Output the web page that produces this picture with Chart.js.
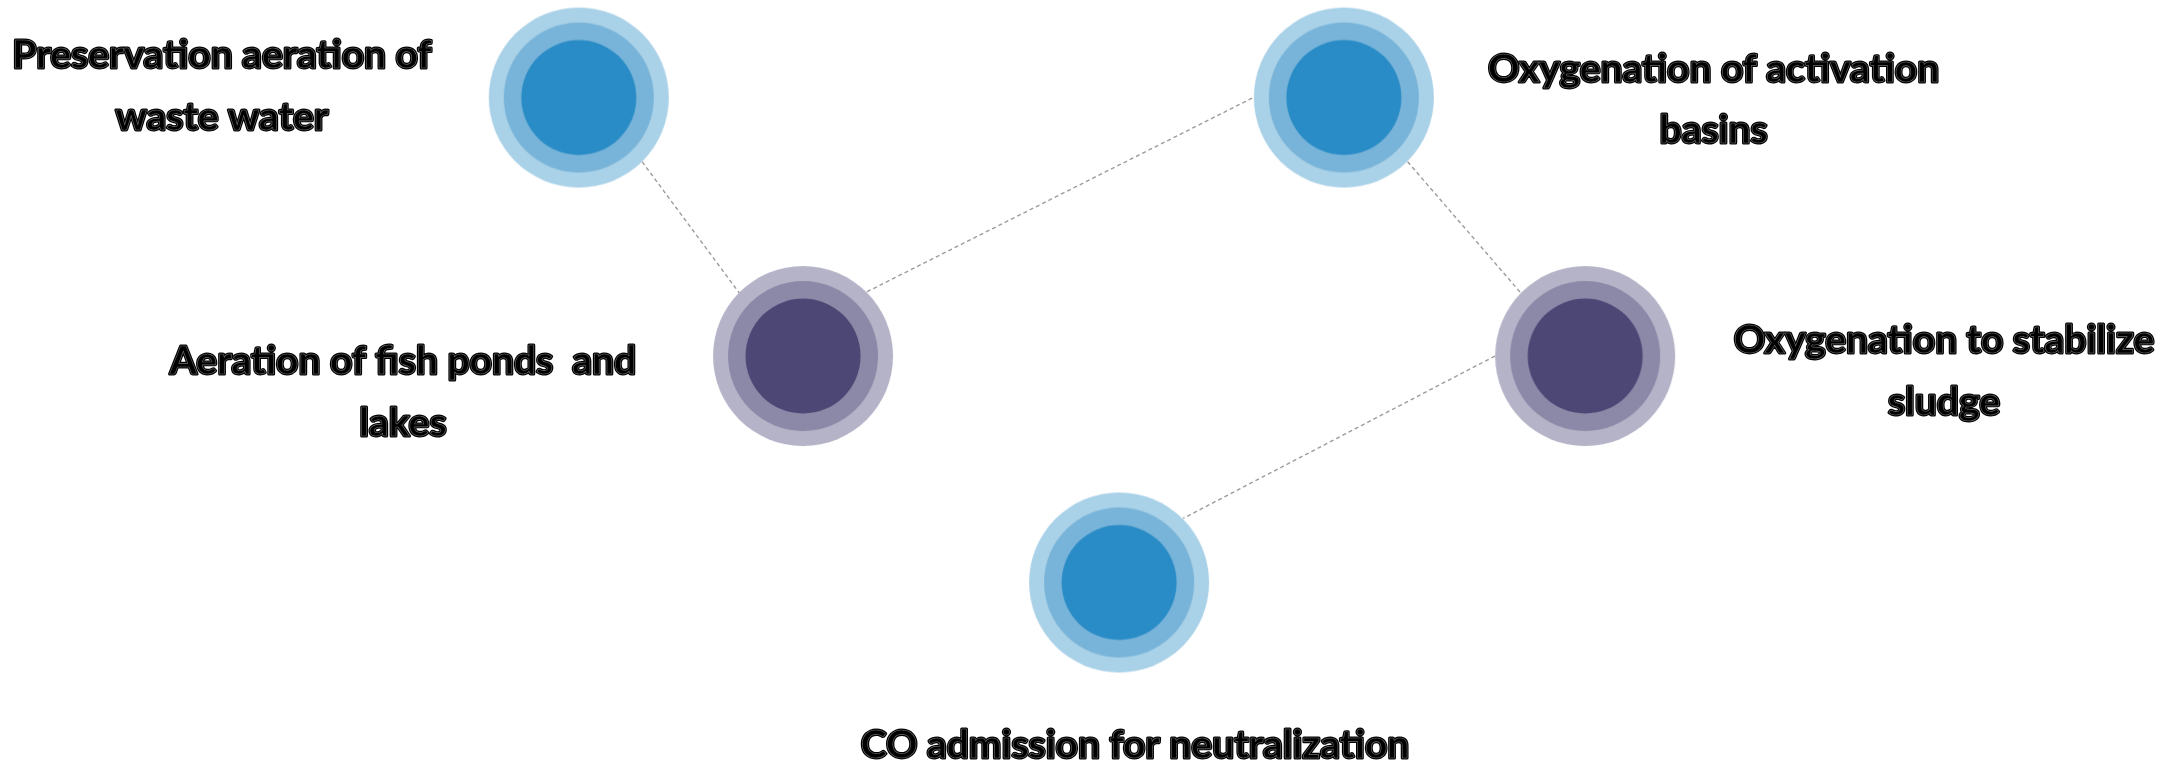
<!DOCTYPE html>
<html>
<head>
<meta charset="utf-8">
<script src="https://cdn.jsdelivr.net/npm/chart.js@4"></script>
<style>
  html, body { margin: 0; padding: 0; background: #fff; }
  #wrap { width: 2184px; height: 766px; position: relative; }
</style>
</head>
<body>
<div id="wrap"><canvas id="diagram"></canvas></div>
<script>
// layout units: percent of width (x) and height (y, from the top)
const nodeLabels = [
  ["Preservation aeration of", "waste water"],
  ["Oxygenation of activation", "basins"],
  ["Aeration of fish ponds  and", "lakes"],
  ["Oxygenation to stabilize", "sludge"],
  ["CO admission for neutralization"],
];
const nodeX = [26.5, 61.53, 36.77, 72.58, 51.24];
const nodeY = [12.73, 12.73, 46.48, 46.48, 76.04];
const nodeTone = ["blue", "blue", "purple", "purple", "blue"];
const labelX = [10.16, 78.46, 18.45, 89.01, 51.97];
const labelY = [8.92, 10.67, 48.86, 46.14, 98.99];

// dashed connectors, start and end points
const linkX0 = [29.4, 39.7, 64.45, 68.45];
const linkY0 = [21.11, 38.08, 21.11, 46.48];
const linkX1 = [33.86, 57.41, 69.65, 54.18];
const linkY1 = [38.29, 12.7, 38.29, 67.66];

const tones = {
  blue: ["#a9d1e7", "#78b4d9", "#2a8cc6"],
  purple: ["#b5b3c8", "#8c89a8", "#4d4776"],
};

function makeRings(cols) {
  const c = document.createElement("canvas");
  c.width = 182;
  c.height = 182;
  const g = c.getContext("2d");
  [90, 75, 57.5].forEach((r, i) => {
    g.beginPath();
    g.arc(91, 91, r, 0, Math.PI * 2);
    g.fillStyle = cols[i];
    g.fill();
  });
  return c;
}
const ringImg = { blue: makeRings(tones.blue), purple: makeRings(tones.purple) };

const linkSets = linkX0.map((x, i) => ({
  type: "scatter",
  data: [{ x: x, y: linkY0[i] }, { x: linkX1[i], y: linkY1[i] }],
  showLine: true,
  borderColor: "#9c9c9c",
  borderWidth: 1.4,
  borderDash: [4, 3],
  pointRadius: 0,
  order: 2,
}));

const labelPlugin = {
  id: "nodeLabels",
  afterDatasetsDraw(chart) {
    const ctx = chart.ctx;
    const xs = chart.scales.x, ys = chart.scales.y;
    ctx.save();
    ctx.font = "bold 39px Lato";
    ctx.textAlign = "center";
    ctx.textBaseline = "alphabetic";
    ctx.lineJoin = "round";
    nodeLabels.forEach((lines, i) => {
      const px = xs.getPixelForValue(labelX[i]);
      const py = ys.getPixelForValue(labelY[i]);
      lines.forEach((t, k) => {
        const y = py + k * 61.5;
        ctx.lineWidth = 3;
        ctx.strokeStyle = "#000";
        ctx.strokeText(t, px, y);
        ctx.fillStyle = "#000";
        ctx.fillText(t, px, y);
        ctx.lineWidth = 0.6;
        ctx.strokeStyle = "#6e6e6e";
        ctx.strokeText(t, px, y);
      });
    });
    ctx.restore();
  },
};

new Chart(document.getElementById("diagram"), {
  type: "scatter",
  data: {
    datasets: [
      {
        data: nodeX.map((x, i) => ({ x: x, y: nodeY[i] })),
        pointStyle: nodeTone.map((t) => ringImg[t]),
        pointRadius: 91,
        order: 1,
      },
      ...linkSets,
    ],
  },
  options: {
    responsive: true,
    maintainAspectRatio: false,
    animation: false,
    events: [],
    layout: { padding: 0, autoPadding: false },
    plugins: { legend: { display: false }, tooltip: { enabled: false } },
    scales: {
      x: { type: "linear", min: 0, max: 100, display: false },
      y: { type: "linear", min: 0, max: 100, reverse: true, display: false },
    },
  },
  plugins: [labelPlugin],
});
</script>
</body>
</html>
